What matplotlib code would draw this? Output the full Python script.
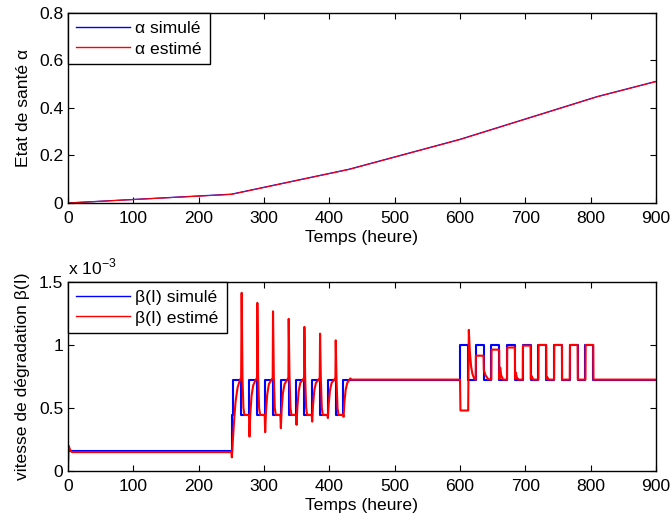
import numpy as np
import matplotlib
matplotlib.use('Agg')
import matplotlib.pyplot as plt

plt.rcParams['font.family'] = ['Liberation Sans', 'DejaVu Sans']
plt.rcParams['font.size'] = 12.6

# Etat de sante alpha (haut)
t_alpha = [0, 250, 430, 600, 810, 900]
alpha_sim = [0.0, 0.037, 0.142, 0.268, 0.448, 0.512]
alpha_est = [0.0, 0.036, 0.141, 0.267, 0.447, 0.511]

# beta simule (x 1e-3), paliers
t_beta_sim = [0, 250.5, 252.5, 265.5, 277.5, 289.5, 301.5, 313.5, 325.5, 337.5,
              349.5, 361.5, 373.5, 385.5, 397.5, 409.5, 421.5,
              600.5, 612.5, 624, 636, 648, 660, 672, 684, 696, 708, 720, 732,
              744, 756, 768, 780, 792, 804, 900]
beta_sim = [0.155, 0.445, 0.725, 0.445, 0.725, 0.445, 0.725, 0.445, 0.725, 0.445,
            0.725, 0.445, 0.725, 0.445, 0.725, 0.445, 0.725,
            1.0, 0.725, 1.0, 0.725, 1.0, 0.725, 1.0, 0.725, 1.0, 0.725, 1.0, 0.725,
            1.0, 0.725, 1.0, 0.725, 1.0, 0.725, 0.725]

# beta estime (x 1e-3)
t_beta_est = [0, 1, 3, 6, 250,
              250.8, 252.5, 254.5, 256.5, 259.5, 263, 265, 265.8, 267, 268.5, 270,
              277, 277.8, 279, 281, 283.5, 287, 289.3, 289.8, 291, 292.5, 294,
              301, 301.8, 303, 305, 307.5, 311, 313.3, 313.8, 315, 316.5, 318,
              325, 325.8, 327, 329, 331.5, 335, 337.3, 337.8, 339, 340.5, 342,
              349, 349.8, 351, 353, 355.5, 359, 361.3, 361.8, 363, 364.5, 366,
              373, 373.8, 375, 377, 379.5, 383, 385.3, 385.8, 387, 388.5, 390,
              397, 397.8, 399, 401, 403.5, 407, 409.3, 409.8, 411, 412.5, 414,
              421, 421.8, 423, 425, 427.5, 431, 432, 434,
              600, 600.7, 612.5, 613.5, 615, 617, 619, 622,
              624, 624.3, 636, 636.5, 639, 643, 647,
              648, 648.3, 660, 660.3, 661.5, 663, 666,
              672, 672.3, 684, 684.3, 685.5, 687, 690,
              696, 696.3, 708, 708.3, 709.5, 712,
              720, 720.3, 732, 732.3, 733.5, 736,
              744, 744.3, 756, 756.3,
              768, 768.3, 780, 780.3,
              792, 792.3, 804, 804.3, 900]
beta_est = [0.02, 0.2, 0.17, 0.15, 0.15,
            0.108, 0.26, 0.42, 0.55, 0.66, 0.72, 0.74, 1.414, 0.75, 0.5, 0.445,
            0.445, 0.273, 0.45, 0.6, 0.68, 0.72, 0.74, 1.334, 0.75, 0.5, 0.445,
            0.445, 0.308, 0.47, 0.61, 0.69, 0.72, 0.74, 1.267, 0.75, 0.5, 0.445,
            0.445, 0.34, 0.49, 0.62, 0.69, 0.72, 0.74, 1.207, 0.75, 0.5, 0.445,
            0.445, 0.366, 0.5, 0.63, 0.7, 0.72, 0.74, 1.143, 0.74, 0.5, 0.445,
            0.445, 0.392, 0.52, 0.64, 0.7, 0.72, 0.74, 1.09, 0.73, 0.5, 0.445,
            0.445, 0.42, 0.53, 0.64, 0.7, 0.72, 0.74, 1.037, 0.72, 0.5, 0.445,
            0.445, 0.43, 0.54, 0.645, 0.7, 0.725, 0.735, 0.725,
            0.725, 0.48, 0.48, 1.12, 0.95, 0.83, 0.77, 0.73,
            0.725, 0.915, 0.915, 0.8, 0.76, 0.73, 0.725,
            0.725, 0.963, 0.963, 0.73, 0.82, 0.76, 0.725,
            0.725, 0.98, 0.98, 0.73, 0.78, 0.74, 0.725,
            0.725, 0.995, 0.995, 0.73, 0.755, 0.725,
            0.725, 1.0, 1.0, 0.73, 0.745, 0.725,
            0.725, 1.0, 1.0, 0.725,
            0.725, 1.0, 1.0, 0.725,
            0.725, 1.0, 1.0, 0.725, 0.725]

fig = plt.figure(figsize=(6.7, 5.21), dpi=100)
ax1 = fig.add_axes([0.1015, 0.6104, 0.8776, 0.3647])
ax2 = fig.add_axes([0.1015, 0.0960, 0.8776, 0.3628])

ax1.plot(t_alpha, alpha_sim, color='blue', lw=0.9, label='α simulé')
ax1.plot(t_alpha, alpha_est, color='red', lw=0.8, label='α estimé')
ax1.set_xlim(0, 900)
ax1.set_ylim(0, 0.8)
ax1.set_yticks([0, 0.2, 0.4, 0.6, 0.8])
ax1.set_yticklabels(['0', '0.2', '0.4', '0.6', '0.8'])
ax1.set_ylabel('Etat de santé α', labelpad=6)
ax1.set_xlabel('Temps (heure)', labelpad=3)

ax2.plot(t_beta_sim, beta_sim, color='blue', lw=1.5, drawstyle='steps-post', label='β(I) simulé')
ax2.plot(t_beta_est, beta_est, color='red', lw=1.5, label='β(I) estimé')
ax2.set_xlim(0, 900)
ax2.set_ylim(0, 1.5)
ax2.set_yticks([0, 0.5, 1, 1.5])
ax2.set_yticklabels(['0', '0.5', '1', '1.5'])
ax2.set_ylabel('vitesse de dégradation β(I)', labelpad=6)
ax2.set_xlabel('Temps (heure)', labelpad=3)
ax2.text(0.0, 1.025, r'x 10$^{\mathregular{-3}}$', transform=ax2.transAxes,
         fontsize=12.6, ha='left', va='bottom')

for ax in (ax1, ax2):
    ax.set_xticks(range(0, 901, 100))
    ax.tick_params(direction='in', top=True, right=True, length=4, width=0.8)
    ax.tick_params(axis='x', pad=6)
    for s in ax.spines.values():
        s.set_linewidth(1.0)
    leg = ax.legend(loc='upper left', borderaxespad=0, fancybox=False,
                    edgecolor='black', framealpha=1, handlelength=3.1,
                    handletextpad=0.3, labelspacing=0.3, borderpad=0.45)
    leg.get_frame().set_linewidth(1.0)
    for h in leg.get_lines():
        h.set_linewidth(1.0)

fig.savefig('out.png', dpi=100)
